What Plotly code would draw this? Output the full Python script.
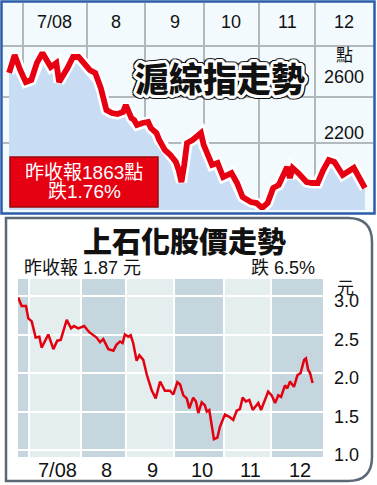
import plotly.graph_objects as go
import math

W, H = 377, 485
def px(x): return x / W
def py(y): return 1 - y / H

# ---------------- data ----------------
# Shanghai Composite (trading-day index from 1 Jul 2008, close in points)
sh_day = [-5,-3,-1,1,3,5,7,10,12,13,16,18,20,22,24,26,27,28,30,32,34,36,37,39,40,41,43,45,46,48,
          49,51,53,55,56,57,58,59,61,64,65,66,68,70,72,75,77,79,82,84,86,88,90,92,95,96,97,99,102,104,
          106,108,110,112,115,119,121,123]
sh_close = [2809,2965,2835,2730,2748,2896,2983,2861,2896,2730,2852,2948,2948,2896,2835,2809,2748,2678,2487,2461,
            2452,2470,2530,2417,2400,2357,2374,2383,2330,2287,2226,2139,2096,2035,1965,1861,2009,2200,2226,2287,
            2183,2113,2009,2026,1904,1939,1852,1730,1687,1678,1635,1678,1809,1835,1991,1896,1983,1939,1861,1852,
            1852,1965,2052,2035,1922,1983,1904,1809]
sh_months = ['7/08', '8', '9', '10', '11', '12']
sh_gridvals = [2200, 2600]
sh_gridlabels = ['2600', '2200']

# Shanghai Petrochemical share price (trading-day index, HK$)
sp_day = [-4.7,-3.2,-1.3,-0.3,1.2,2.9,4.5,5.5,8.4,10.6,12.3,13.8,16.4,18.3,19.6,21.4,24.0,26.2,29.4,30.9,
          32.3,34.5,36.7,38.1,39.6,40.7,41.7,43.2,44.2,45.3,46.8,48.0,49.7,51.2,53.3,55.1,57.0,59.1,61.3,62.7,
          64.5,65.7,67.1,68.6,69.7,71.4,72.6,73.6,75.1,76.5,77.3,78.4,79.4,80.4,81.9,83.0,85.2,87.1,88.8,90.3,
          91.7,92.9,94.3,95.8,97.3,98.7,99.7,100.9,102.6,104.0,105.5,107.0,108.4,109.6,111.3,112.3,113.5,115.2,116.7,118.1,
          119.6,120.4,121.4,122.2,123.3]
sp_close = [2.98,2.87,2.87,2.71,2.67,2.46,2.47,2.33,2.50,2.31,2.42,2.43,2.69,2.58,2.61,2.58,2.61,2.53,2.46,2.40,
            2.44,2.31,2.29,2.37,2.41,2.39,2.50,2.47,2.49,2.39,2.16,2.23,2.17,1.98,1.78,1.67,1.89,1.77,1.77,1.72,
            1.88,1.85,1.71,1.67,1.54,1.68,1.63,1.48,1.62,1.58,1.50,1.52,1.33,1.14,1.16,1.30,1.46,1.43,1.39,1.51,
            1.53,1.68,1.63,1.65,1.52,1.58,1.61,1.52,1.65,1.76,1.71,1.61,1.71,1.69,1.84,1.80,1.89,1.82,1.97,2.00,
            2.17,2.19,2.04,2.00,1.87]
sp_months = ['7/08', '8', '9', '10', '11', '12']
sp_ticks = [1.0, 1.5, 2.0, 2.5, 3.0]
sp_ticktext = ['1.0', '1.5', '2.0', '2.5', '3.0']

# ---------------- layout constants ----------------
sh_month_start = [0, 23, 44, 65, 85, 105]
sh_xrange = [-7.19, 125.9]
sh_yrange = [1617.4, 3417.4]
sp_month_start = [0, 22.6, 42.2, 63.0, 84.8, 105.2]
sp_xrange = [-4.78, 127.83]
sp_yrange = [0.909, 3.221]

LAT = 'Liberation Sans, Arial, Noto Sans CJK TC, sans-serif'
CJK = 'Noto Sans CJK TC, Noto Sans CJK SC, sans-serif'
RED = '#e60012'
GRID = '#b3b8bc'

fig = go.Figure()
fig.add_trace(go.Scatter(x=sh_day, y=sh_close, mode='lines', line=dict(width=0, color='#c8dcf3'),
                         fill='tozeroy', fillcolor='#c8dcf3', hoverinfo='skip', xaxis='x', yaxis='y'))
fig.add_trace(go.Scatter(x=sh_day, y=sh_close, mode='lines', line=dict(width=11, color='white'),
                         hoverinfo='skip', xaxis='x', yaxis='y'))
fig.add_trace(go.Scatter(x=sh_day, y=sh_close, mode='lines', line=dict(width=5.8, color=RED),
                         xaxis='x', yaxis='y'))
fig.add_trace(go.Scatter(x=sp_day, y=sp_close, mode='lines', line=dict(width=2.5, color='#e3000f'),
                         xaxis='x2', yaxis='y2'))

shapes = []
shapes.append(dict(type='rect', xref='paper', yref='paper', x0=px(2), x1=px(374), y0=py(213), y1=py(2),
                   fillcolor='#f2fafd', line=dict(width=0), layer='below'))
shapes.append(dict(type='line', xref='paper', yref='paper', x0=px(2), x1=px(374), y0=py(46), y1=py(46),
                   line=dict(color=GRID, width=2), layer='below'))
bounds = [sp_xrange[0]] + sp_month_start + [sp_xrange[1]]
for i in range(len(bounds) - 1):
    shapes.append(dict(type='rect', xref='x2', yref='y2 domain', x0=bounds[i], x1=bounds[i + 1], y0=0, y1=1,
                       fillcolor='#c6d6de' if i % 2 == 0 else '#e5eeef', line=dict(width=0), layer='below'))
shapes.append(dict(type='rect', xref='paper', yref='paper', x0=px(1.5), x1=px(374.5), y0=py(213.5), y1=py(1.5),
                   line=dict(color='#2a5daa', width=2.5), layer='above'))
shapes.append(dict(type='rect', xref='paper', yref='paper', x0=px(10), x1=px(158), y0=py(207), y1=py(157),
                   fillcolor='#e50012', line=dict(color='#9c0a0a', width=1.5), layer='above'))
r = 24
L, T, R, B = 6, 218, 372, 481
def P(x, y): return f"{px(x):.5f},{py(y):.5f}"
path = (f"M{P(L,T)} L{P(R-r,T)} Q{P(R,T)} {P(R,T+r)} L{P(R,B-r)} Q{P(R,B)} {P(R-r,B)} L{P(L,B)} Z")
shapes.append(dict(type='path', xref='paper', yref='paper', path=path,
                   line=dict(color='#5d6876', width=2.5), layer='above'))

ann = []
def A(text, x, y, size, family=LAT, color='#111', xref='paper', yref='paper', xanchor='center',
      weight='normal', shadow='none', **kw):
    ann.append(dict(text=text, xref=xref, yref=yref, x=x, y=y, showarrow=False,
                    xanchor=xanchor, yanchor='middle',
                    font=dict(family=family, size=size, color=color, weight=weight, shadow=shadow), **kw))

sh_b = sh_month_start + [sh_xrange[1]]
for i, m in enumerate(sh_months):
    A(m, (sh_b[i] + sh_b[i + 1]) / 2, py(22), 18, xref='x')
A('點', px(344), py(53), 17, family=CJK)
A(sh_gridlabels[0], px(344), py(77), 18)
A(sh_gridlabels[1], px(344), py(133), 18)
# title with white halo and thin dark outer outline (CSS text-shadow)
halo = []
for rad, col in ((3.0, 'white'), (4.2, '#111')):
    for k in range(16):
        a = 2 * math.pi * k / 16
        halo.append(f"{rad * math.cos(a):.1f}px {rad * math.sin(a):.1f}px 0 {col}")
A('滬綜指走勢', px(220), py(77), 34, family=CJK, color='#111', weight=900, shadow=', '.join(halo))
A('昨收報1863點', px(84), py(172), 19, color='white')
A('跌1.76%', px(84), py(192), 19, color='white')
A('上石化股價走勢', px(184), py(240), 29, family=CJK, weight=900)
A('昨收報 1.87 元', px(22), py(268), 18, xanchor='left')
A('跌 6.5%', px(317), py(268), 18, xanchor='right')
A('元', px(345), py(286), 17, family=CJK)
# price-axis tick labels, placed on the y2 scale just below each gridline
for v, t in zip(sp_ticks, sp_ticktext):
    A(t, px(346), v, 18, yref='y2', yshift=-5)
sp_b = sp_month_start + [sp_xrange[1]]
for i, m in enumerate(sp_months):
    A(m, (sp_b[i] + sp_b[i + 1]) / 2, py(470), 20, xref='x2', xshift=3)

fig.update_layout(
    width=W, height=H, margin=dict(l=0, r=0, t=0, b=0), autosize=False,
    paper_bgcolor='white', plot_bgcolor='rgba(0,0,0,0)', showlegend=False,
    xaxis=dict(domain=[px(3), px(373)], range=sh_xrange, tickvals=sh_month_start, showticklabels=False,
               showgrid=True, gridcolor=GRID, gridwidth=2, zeroline=False, showline=False, ticks='',
               anchor='y', fixedrange=True),
    yaxis=dict(domain=[py(210), py(3)], range=sh_yrange, tickvals=sh_gridvals, showticklabels=False,
               showgrid=True, gridcolor=GRID, gridwidth=2, zeroline=False, showline=False, ticks='',
               anchor='x', fixedrange=True),
    xaxis2=dict(domain=[px(18), px(323)], range=sp_xrange, tickvals=sp_month_start, showticklabels=False,
                showgrid=True, gridcolor='white', gridwidth=2, zeroline=False, showline=False, ticks='',
                anchor='y2', fixedrange=True),
    yaxis2=dict(domain=[py(457), py(279)], range=sp_yrange, tickvals=sp_ticks, showticklabels=False,
                side='right', showgrid=True, gridcolor='white', gridwidth=2, zeroline=False, showline=False,
                ticks='', anchor='x2', fixedrange=True),
    shapes=shapes, annotations=ann,
)
fig.write_html('out.html', config={'displayModeBar': False, 'responsive': False},
               post_script="document.documentElement.style.margin='0';document.body.style.margin='0';"
                           "document.body.style.padding='0';document.documentElement.style.overflow='hidden';"
                           "document.body.style.overflow='hidden';")
